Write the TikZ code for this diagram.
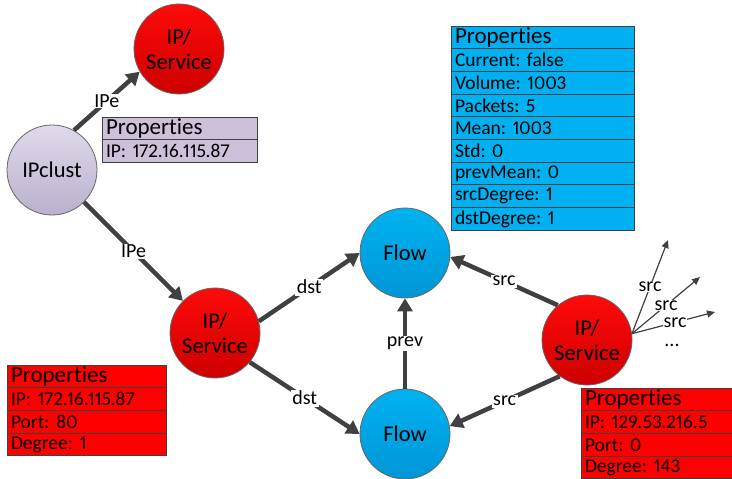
\documentclass[tikz,border=0pt]{standalone}
\usepackage{fontspec}
\setmainfont{Carlito}[Ligatures=NoCommon, Numbers=Proportional]
\usetikzlibrary{arrows.meta,positioning}
\definecolor{edgegray}{RGB}{64,64,64}
\definecolor{svcred}{RGB}{255,10,10}
\definecolor{svcdark}{RGB}{205,0,0}
\definecolor{clustlight}{RGB}{224,218,234}
\definecolor{clustdark}{RGB}{186,176,206}
\definecolor{flowblue}{RGB}{0,178,240}
\definecolor{flowdark}{RGB}{0,150,214}
\definecolor{proppurple}{RGB}{204,192,218}
\definecolor{propblue}{RGB}{0,176,240}
\definecolor{propred}{RGB}{255,0,0}
\frenchspacing

\begin{document}
\begin{tikzpicture}[
        x=1pt, y=-1pt,
        every node/.style={font=\fontsize{20}{22}\selectfont},
        vertex/.style={circle, draw=edgegray!80, line width=0.8pt, minimum size=90pt, inner sep=0pt, align=center, font=\fontsize{22.5}{25}\selectfont},
        svc/.style={vertex, top color=svcred, bottom color=svcdark},
        clustv/.style={vertex, top color=clustlight, bottom color=clustdark},
        flowv/.style={vertex, top color=flowblue, bottom color=flowdark},
        link/.style={line width=4.5pt, draw=edgegray, -{Triangle[length=13pt,width=15pt]}},
        thinlink/.style={line width=1.2pt, draw=edgegray, -{Triangle[length=8pt,width=7pt]}},
        lbl/.style={fill=white, inner sep=1.5pt},
        prop/.style={rectangle, draw=edgegray, line width=1pt, anchor=north west, minimum height=22.7pt, inner xsep=4pt, inner ysep=0pt, align=left, outer sep=0pt, font=\fontsize{19.5}{21}\selectfont},
        phead/.style={font=\fontsize{23}{24}\selectfont}
    ]
        \useasboundingbox (0,0) rectangle (732,479);

        \node[clustv] (clust) at (52,170) {IPclust};
        \node[svc] (svctop) at (179,49) {IP/\\Service};
        \node[svc] (svcmid) at (215,333) {IP/\\Service};
        \node[svc] (svcright) at (587,340) {IP/\\Service};
        \node[flowv] (flowtop) at (405,253) {Flow};
        \node[flowv] (flowbot) at (405,434) {Flow};

        \draw[link] (clust.61) -- node[lbl, inner sep=1pt] {IPe} (svctop.210);
        \draw[link] (clust) -- node[lbl] {IPe} (svcmid);
        \draw[link] (svcmid.15) -- node[lbl] {dst} (flowtop.west);
        \draw[link] (svcmid.-40) -- node[lbl] {dst} (flowbot.west);
        \draw[link] (flowbot) -- node[lbl] {prev} (flowtop);
        \draw[link] (svcright.130) -- node[lbl] {src} (flowtop.-5);
        \draw[link] (svcright.233) -- node[lbl] {src} (flowbot.10);

        \coordinate (srcout1) at (668,240);
        \coordinate (srcout2) at (700,277);
        \coordinate (srcout3) at (715,312);
        \draw[thinlink] (svcright.8) -- node[lbl, inner sep=0.5pt] {src} (srcout1);
        \draw[thinlink] (svcright.8) -- node[lbl, inner sep=0.5pt] {src} (srcout2);
        \draw[thinlink] (svcright.8) -- node[lbl, inner sep=0.5pt, pos=0.52] {src} (srcout3);
        \node (srcmore) at (672,345) {...};

        % properties of the cluster
        \node[prop, phead, fill=proppurple, text width=147pt] (clustp0) at (102,117) {Properties};
        \node[prop, fill=proppurple, text width=147pt, below=0pt of clustp0] (clustp1) {IP: 172.16.115.87};

        % properties of the flow
        \node[prop, phead, fill=propblue, text width=175pt] (flowp0) at (451,26) {Properties};
        \node[prop, fill=propblue, text width=175pt, below=0pt of flowp0] (flowp1) {Current: false};
        \node[prop, fill=propblue, text width=175pt, below=0pt of flowp1] (flowp2) {Volume: 1003};
        \node[prop, fill=propblue, text width=175pt, below=0pt of flowp2] (flowp3) {Packets: 5};
        \node[prop, fill=propblue, text width=175pt, below=0pt of flowp3] (flowp4) {Mean: 1003};
        \node[prop, fill=propblue, text width=175pt, below=0pt of flowp4] (flowp5) {Std: 0};
        \node[prop, fill=propblue, text width=175pt, below=0pt of flowp5] (flowp6) {prevMean: 0};
        \node[prop, fill=propblue, text width=175pt, below=0pt of flowp6] (flowp7) {srcDegree: 1};
        \node[prop, fill=propblue, text width=175pt, below=0pt of flowp7] (flowp8) {dstDegree: 1};

        % properties of the services
        \node[prop, phead, fill=propred, text width=151pt] (midp0) at (7,365) {Properties};
        \node[prop, fill=propred, text width=151pt, below=0pt of midp0] (midp1) {IP: 172.16.115.87};
        \node[prop, fill=propred, text width=151pt, below=0pt of midp1] (midp2) {Port: 80};
        \node[prop, fill=propred, text width=151pt, below=0pt of midp2] (midp3) {Degree: 1};

        \node[prop, phead, fill=propred, text width=143pt] (rightp0) at (581,388) {Properties};
        \node[prop, fill=propred, text width=143pt, below=0pt of rightp0] (rightp1) {IP: 129.53.216.5};
        \node[prop, fill=propred, text width=143pt, below=0pt of rightp1] (rightp2) {Port: 0};
        \node[prop, fill=propred, text width=143pt, below=0pt of rightp2] (rightp3) {Degree: 143};
    \end{tikzpicture}
\end{document}
